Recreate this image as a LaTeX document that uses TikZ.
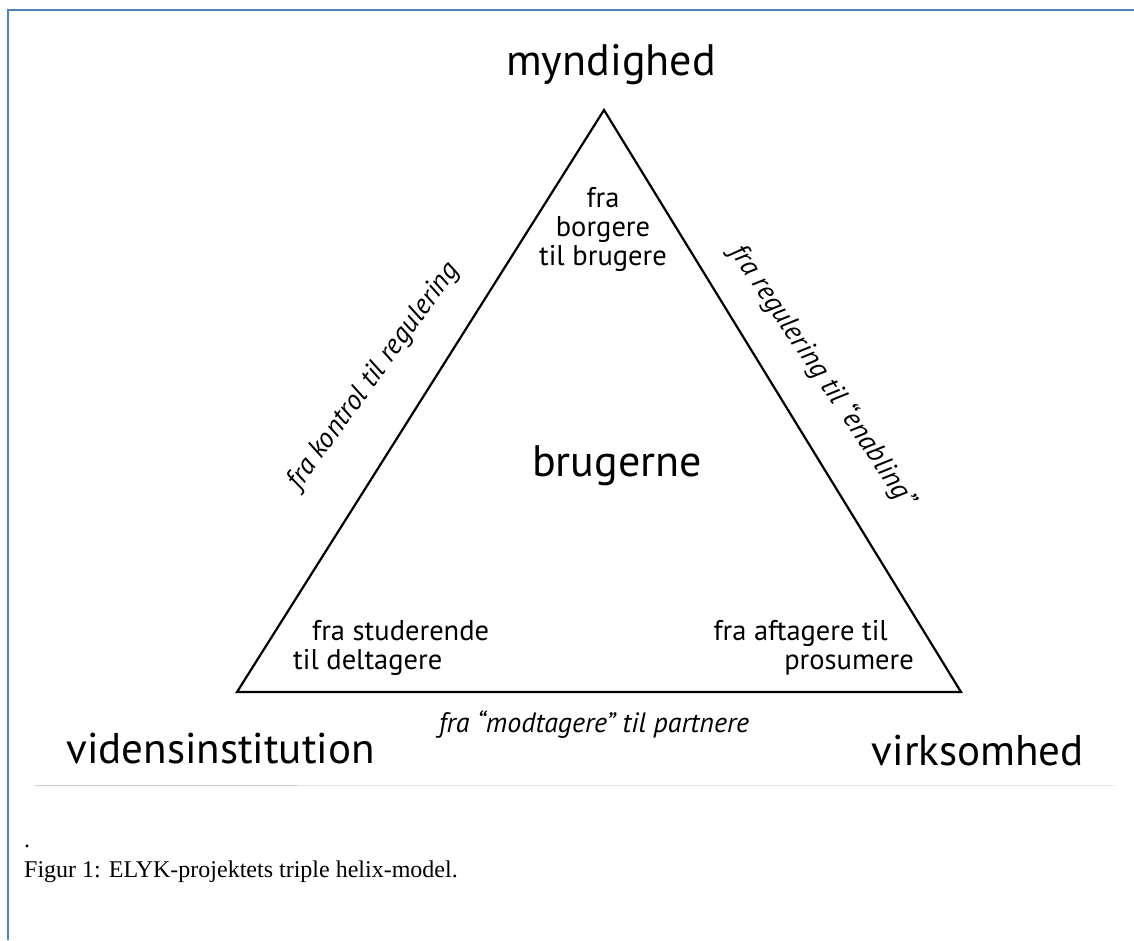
\documentclass[tikz,border=0pt]{standalone}
\usepackage{fontspec}
\setmainfont{PT Sans}
\newfontfamily\capfont{Liberation Serif}
\definecolor{frameblue}{RGB}{79,129,189}
\definecolor{rulegray}{RGB}{200,205,215}
\definecolor{rulelight}{RGB}{232,232,232}
\tikzset{
  corner/.style={font=\fontsize{43}{46}\selectfont, inner sep=0pt},
  apex/.style={font=\fontsize{44}{48}\selectfont, inner sep=0pt},
  inner/.style={font=\fontsize{28.5}{28.5}\selectfont, inner sep=0pt, align=center},
  side/.style={font=\fontsize{28}{30}\selectfont\itshape, inner sep=0pt},
  tri/.style={line width=2.2pt, line join=miter},
  captext/.style={font=\capfont\fontsize{24}{28}\selectfont, inner sep=0pt, anchor=base west},
}
\begin{document}
\begin{tikzpicture}[x=1pt,y=-1pt]
\useasboundingbox (0,0) rectangle (1134,940);
\fill[white] (0,0) rectangle (1134,940);
% frame
\draw[frameblue, line width=2pt] (1134,10) -- (8,10) -- (8,940);
% triangle
\coordinate (A) at (604,110);
\coordinate (B) at (237,692);
\coordinate (C) at (961,692);
\draw[tri] (A) -- (B) -- (C) -- cycle;
% labels
\node[apex, anchor=base] (myn) at (611,75) {myndighed};
\node[corner, anchor=base east] (vid) at (375,763) {vidensinstitution};
\node[corner, anchor=base east] (vir) at (1084,765) {virksomhed};
\node[font=\fontsize{44}{48}\selectfont, inner sep=0pt] (bru) at (617,466) {brugerne};
\node[inner, anchor=base] (t1) at (603,207) {fra};
\node[inner, anchor=base] (t2) at (603,236) {borgere};
\node[inner, anchor=base] (t3) at (603,265) {til brugere};
\node[inner, anchor=base west] (l1) at (312,640) {fra studerende};
\node[inner, anchor=base west] (l2) at (293,669) {til deltagere};
\node[inner, anchor=base east] (r1) at (888,640) {fra aftagere til};
\node[inner, anchor=base east] (r2) at (914,669) {prosumere};
\node[side, rotate=54] (sl) at (374,376) {fra kontrol til regulering};
\node[side, rotate=-56] (sr) at (823,376) {fra regulering til “enabling”};
\node[side] (sb) at (594,725) {fra “modtagere” til partnere};
% rule
\draw[rulelight, line width=1pt] (35,785) -- (1115,785);
\draw[rulegray, line width=1pt] (35,785) -- (298,785);
% caption
\node[captext] (dot) at (24,847) {.};
\node[captext] (cap) at (24,877) {Figur 1: ELYK-projektets triple helix-model.};
\end{tikzpicture}
\end{document}
